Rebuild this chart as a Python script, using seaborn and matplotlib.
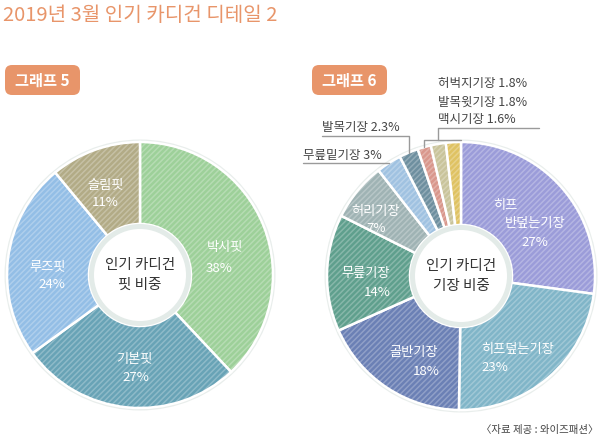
import numpy as np
import matplotlib
matplotlib.use("Agg")
import matplotlib.pyplot as plt
from matplotlib.patches import Circle, FancyBboxPatch
import seaborn as sns

# ---- data ----
fit_labels = ["박시핏", "기본핏", "루즈핏", "슬림핏"]
fit_share = [38, 27, 24, 11]

length_labels = ["히프 반덮는기장", "히프덮는기장", "골반기장", "무릎기장", "허리기장",
                 "무릎밑기장", "발목기장", "맥시기장", "발목윗기장", "허벅지기장"]
length_share = [27, 23, 18, 14, 7, 3, 2.3, 1.6, 1.8, 1.8]

title = "2019년 3월 인기 카디건 디테일 2"
source = "〈자료 제공 : 와이즈패션〉"

# ---- style ----
sns.set_theme(style="white")
plt.rcParams['font.family'] = ['Noto Sans CJK KR', 'DejaVu Sans']
plt.rcParams['hatch.linewidth'] = 1.1

fit_colors = sns.color_palette(["#9dd099", "#68a3b6", "#93bee6", "#b2ab86"])
length_colors = sns.color_palette(["#9b9cd9", "#80b5c8", "#6b80b5", "#5f9f8d", "#9fb3b4",
                                   "#a0c2e1", "#6e8f9f", "#d9978c", "#c9c49b", "#dfc262"])

W, H = 600, 439
orange = "#e8956a"
text_dark = "#333333"
line_gray = "#9a9a9a"


def P(x, y):
    # image pixel coords (y down) -> axes coords (y up)
    return x, H - y


fig = plt.figure(figsize=(6, 4.39), dpi=100)
ax = fig.add_axes([0, 0, 1, 1])


def donut(center, radius, values, colors, center_text):
    cx, cy = P(*center)
    ax.add_patch(Circle((cx, cy), radius + 2.5, facecolor="#e9eeec", edgecolor="none", zorder=0))
    wedges, _ = ax.pie(values, colors=colors, startangle=90, counterclock=False,
                       center=(cx, cy), radius=radius,
                       wedgeprops=dict(width=radius - 51, edgecolor="white", linewidth=1.8))
    ax.pie(values, startangle=90, counterclock=False, center=(cx, cy), radius=radius,
           hatch="//////",
           wedgeprops=dict(width=radius - 51, facecolor="none",
                           edgecolor=(1, 1, 1, 0.25), linewidth=0))
    ax.add_patch(Circle((cx, cy), 51, facecolor="#e3ebe8", edgecolor="none", zorder=5))
    ax.add_patch(Circle((cx, cy), 46, facecolor="white", edgecolor="none", zorder=6))
    ax.text(cx, cy + 1, center_text, ha="center", va="center", fontsize=10.5,
            color=text_dark, linespacing=1.55, zorder=7)
    return wedges


def badge(x, text):
    ax.add_patch(FancyBboxPatch(P(x, 96), 75, 30, boxstyle="round,pad=0,rounding_size=7",
                                facecolor=orange, edgecolor="none"))
    ax.text(*P(x + 37, 81), text, ha="center", va="center", fontsize=11,
            color="white", fontweight="bold")


# title & badges
ax.text(*P(3, 15), title, ha="left", va="center", fontsize=14.5, color=orange,
        fontweight="light")
badge(5, "그래프 5")
badge(312, "그래프 6")

# ---- left donut: fit ----
fit_wedges = donut((140, 276), 133, fit_share, fit_colors, "인기 카디건\n핏 비중")
fit_label_pos = [[(225, 248), (219, 268)],
                 [(134, 360), (136, 378)],
                 [(48, 267), (52, 285)],
                 [(106, 185), (105, 202)]]
for name, val, pos in zip(fit_labels, fit_share, fit_label_pos):
    for txt, p in zip([name, f"{val}%"], pos):
        ax.text(*P(*p), txt, ha="center", va="center", fontsize=9.5, color="white",
                fontweight="medium", zorder=8)

# ---- right donut: length ----
rc = (461, 277)
rr = 134
len_wedges = donut(rc, rr, length_share, length_colors, "인기 카디건\n기장 비중")
len_label_pos = [[(505, 205), (535, 224), (535, 243)],
                 [(517, 350), (495, 368)],
                 [(414, 353), (426, 372)],
                 [(366, 274), (377, 293)],
                 [(376, 212), (376, 228)]]
for name, val, pos in zip(length_labels[:5], length_share[:5], len_label_pos):
    parts = name.split(" ") + [f"{val:g}%"]
    for txt, p in zip(parts, pos):
        ax.text(*P(*p), txt, ha="center", va="center", fontsize=9.5, color="white",
                fontweight="medium", zorder=8)


def attach(w):
    t = np.deg2rad((w.theta1 + w.theta2) / 2)
    cx, cy = w.center
    return cx + w.r * np.cos(t), cy + w.r * np.sin(t)


small = dict(ha="left", va="center", fontsize=9, color="#444444")
# 무릎밑기장
ax.text(*P(303, 155), f"{length_labels[5]} {length_share[5]:g}%", **small)
ax_, ay_ = attach(len_wedges[5])
ax.plot([P(303, 0)[0], ax_], [ay_, ay_], color=line_gray, lw=1)
# 발목기장
ax.text(*P(322, 127), f"{length_labels[6]} {length_share[6]:g}%", **small)
bx, by = attach(len_wedges[6])
ax.plot([P(322, 0)[0], bx, bx], [P(0, 137)[1], P(0, 137)[1], by], color=line_gray, lw=1)
# 맥시 / 발목윗 / 허벅지
for i, yy in zip([9, 8, 7], [83, 102, 120]):
    ax.text(*P(438, yy), f"{length_labels[i]} {length_share[i]:g}%", **small)
sx, sy = attach(len_wedges[7])
ytop = P(0, 141)[1]
ax.plot([sx, sx, P(rc[0], 0)[0]], [sy, ytop, ytop], color=line_gray, lw=1)
ax.plot([438, 438, 539], [ytop, P(0, 129)[1], P(0, 129)[1]], color=line_gray, lw=1)

# source
ax.text(*P(598, 430), source, ha="right", va="center", fontsize=7.5, color="#444444")

ax.set_xlim(0, W)
ax.set_ylim(0, H)
ax.set_aspect("auto")
ax.axis("off")

fig.savefig("out.png", dpi=100)
